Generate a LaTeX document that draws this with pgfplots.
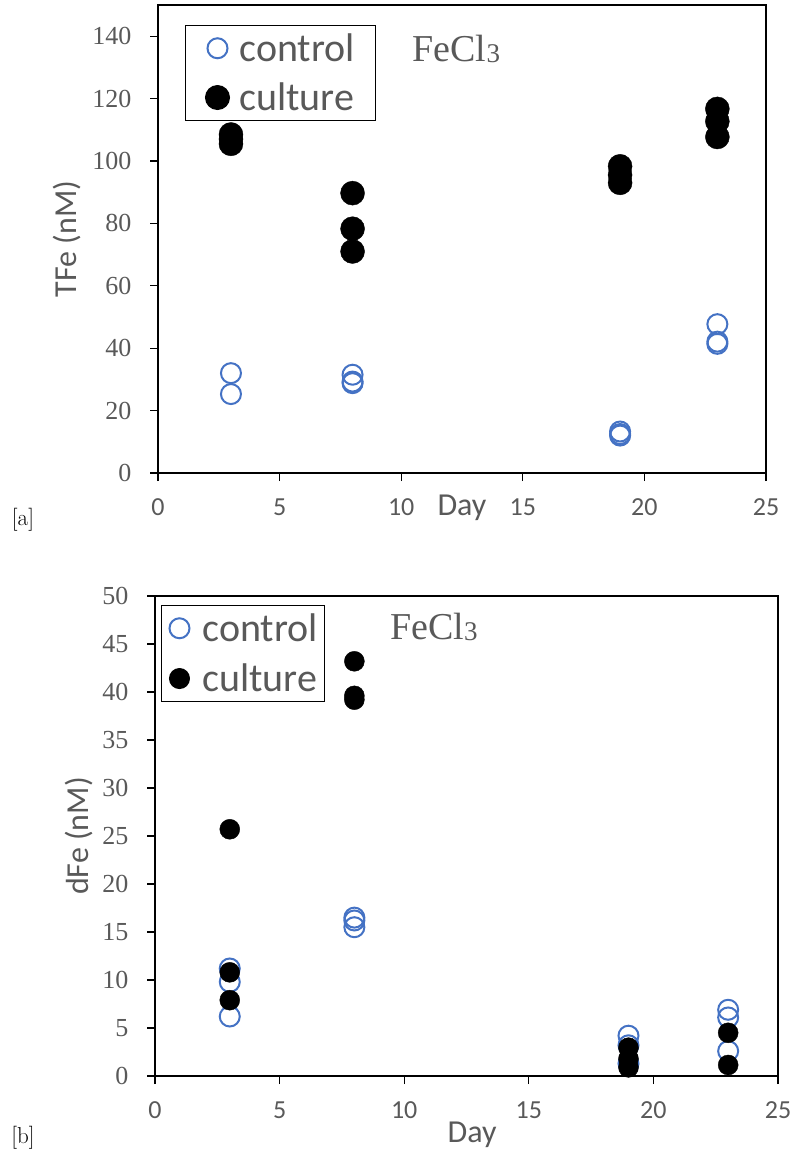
\documentclass[border=0pt]{standalone}
\usepackage{fontspec}
\usepackage{pgfplots}
\pgfplotsset{compat=1.18}
\newfontfamily\calibri{Carlito}
\newfontfamily\tnr{Liberation Serif}
\definecolor{txt}{HTML}{595959}
\definecolor{ctrl}{HTML}{4472C4}

\pgfplotsset{
  myax/.style={
    scale only axis,
    xmin=0, xmax=25,
    xtick={0,5,...,25},
    xtick pos=lower, ytick pos=left,
    tick align=outside,
    major tick length=8pt,
    axis line style={line width=1.3pt},
    tick style={black, line width=1.3pt},
    /pgf/number format/assume math mode=true,
    xticklabel style={font=\calibri\fontsize{26}{30}\selectfont, text=txt, yshift=-14pt},
    yticklabel style={font=\tnr\fontsize{26}{30}\selectfont, text=txt, xshift=-15pt},
    label style={font=\calibri\fontsize{32}{36}\selectfont, text=txt},
    legend cell align=left,
    legend image code/.code={\path[draw=none,fill=none] (-13pt,-12pt) rectangle (13pt,12pt); \draw[mark repeat=1,##1] plot coordinates {(0pt,0pt)};},
    legend style={font=\calibri\fontsize{40}{46}\selectfont, text=txt, draw=black, line width=1pt, nodes={inner sep=2pt}, row sep=16pt, inner ysep=6pt},
    clip=false,
  },
  ctrlst/.style={only marks, mark=o, mark size=10pt, mark options={draw=ctrl, line width=2pt}},
  cultst/.style={only marks, mark=*, mark size=#1, mark options={fill=black, draw=black}},
}

\pgfplotstableread{
x y
3 32.0
3 25.3
8 31.5
8 29.3
8 28.8
19 13.3
19 12.5
19 12.0
23 47.7
23 42.1
23 41.4
}\ctrlA
\pgfplotstableread{
x y
3 108.5
3 107.0
3 105.5
8 89.7
8 78.3
8 71.0
19 98.3
19 95.5
19 93.0
23 116.7
23 112.7
23 107.7
}\cultA
\pgfplotstableread{
x y
3 11.2
3 9.8
3 6.2
8 16.5
8 16.2
8 15.5
19 4.2
19 3.2
19 1.3
23 6.9
23 6.1
23 2.6
}\ctrlB
\pgfplotstableread{
x y
3 25.7
3 10.8
3 7.9
8 43.2
8 39.6
8 39.2
19 2.95
19 1.8
19 0.9
23 4.5
23 1.15
}\cultB

\begin{document}
\begin{tikzpicture}
\path[use as bounding box] (0pt,0pt) rectangle (792pt,-1161pt);

\begin{axis}[myax,
  at={(158pt,-473pt)}, anchor=south west,
  width=608pt, height=468pt,
  ymin=0, ymax=150, ytick={0,20,...,140},
  xlabel={Day}, ylabel={TFe (nM)},
  xlabel style={at={(axis description cs:0.5,0)}, anchor=center, yshift=-35pt},
  ylabel style={at={(axis description cs:-0.1497,0.5)}, anchor=center},
  legend style={at={(0.0444,0.957)}, anchor=north west, inner xsep=19pt, column sep=7pt},
]
\addplot[ctrlst] table[x=x,y=y] {\ctrlA};
\addlegendentry{control}
\addplot[cultst=12pt] table[x=x,y=y] {\cultA};
\addlegendentry{culture}
\node[anchor=base west, font=\tnr\fontsize{38}{40}\selectfont, text=txt] at (rel axis cs:0.413,0.880) {FeCl{\fontsize{27}{30}\selectfont\raisebox{-1pt}{3}}};
\end{axis}
\node[anchor=center, font=\fontsize{23}{26}\selectfont] at (23pt,-520pt) {[a]};

\begin{axis}[myax,
  at={(155pt,-1076pt)}, anchor=south west,
  width=623pt, height=480pt,
  ymin=0, ymax=50, ytick={0,5,...,50},
  xlabel={Day}, ylabel={dFe (nM)},
  xlabel style={at={(axis description cs:0.509,0)}, anchor=center, yshift=-59pt},
  ylabel style={at={(axis description cs:-0.122,0.5)}, anchor=center},
  legend style={at={(0.0096,0.981)}, anchor=north west, inner xsep=5pt, column sep=8pt, row sep=17pt},
]
\addplot[ctrlst] table[x=x,y=y] {\ctrlB};
\addlegendentry{control}
\addplot[cultst=10pt] table[x=x,y=y] {\cultB};
\addlegendentry{culture}
\node[anchor=base west, font=\tnr\fontsize{38}{40}\selectfont, text=txt] at (rel axis cs:0.372,0.910) {FeCl{\fontsize{27}{30}\selectfont\raisebox{-1pt}{3}}};
\end{axis}
\node[anchor=center, font=\fontsize{23}{26}\selectfont] at (23pt,-1138pt) {[b]};
\end{tikzpicture}
\end{document}
